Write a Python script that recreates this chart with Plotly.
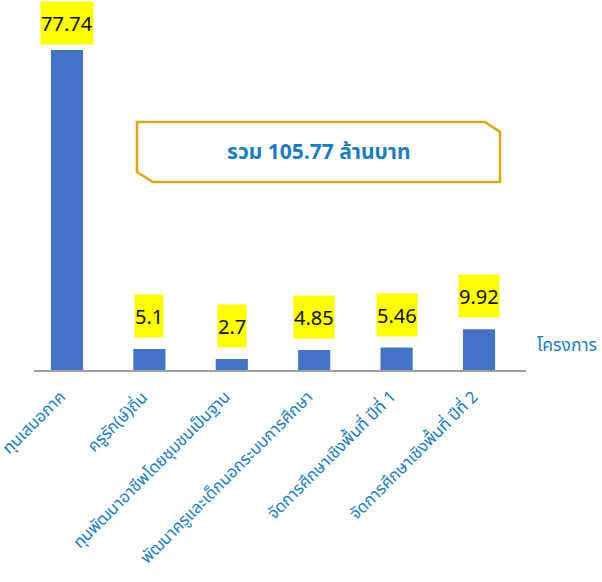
import plotly.graph_objects as go

# Budget per project (million baht)
categories = [
    "ทุนเสมอภาค",
    "ครูรัก(ษ์)ถิ่น",
    "ทุนพัฒนาอาชีพโดยชุมชนเป็นฐาน",
    "พัฒนาครูและเด็กนอกระบบการศึกษา",
    "จัดการศึกษาเชิงพื้นที่ ปีที่ 1",
    "จัดการศึกษาเชิงพื้นที่ ปีที่ 2",
]
values = [77.74, 5.1, 2.7, 4.85, 5.46, 9.92]
value_labels = ["77.74", "5.1", "2.7", "4.85", "5.46", "9.92"]
axis_title = "โครงการ"

total = round(sum(values), 2)
total_text = f"รวม {total:.2f} ล้านบาท"

W, H = 602, 582
ML, MR, MT, MB = 34, 76, 0, 212
PW, PH = W - ML - MR, H - MT - MB

BLUE_TEXT = "#1A7DC2"
BAR_BLUE = "#4472C4"
GOLD = "#DBA818"
THAI_FONT = "Noto Sans Thai, Noto Sans, sans-serif"
NUM_FONT = "Noto Sans, sans-serif"


def px_x(x):
    return (x - ML) / PW


def px_y(y):
    return (H - MB - y) / PH


fig = go.Figure()
fig.add_trace(go.Bar(
    x=list(range(len(categories))),
    y=values,
    width=0.39,
    marker=dict(color=BAR_BLUE, line=dict(width=0)),
    hoverinfo="skip",
))

y_max = 89.9
annotations = []

# value labels on yellow boxes above each bar
for i, (v, t) in enumerate(zip(values, value_labels)):
    box_h = 42
    bar_top_px = PH * v / y_max
    shift = min(11, PH - bar_top_px - box_h - 3)
    annotations.append(dict(
        x=i, y=v, xref="x", yref="y", text=t, showarrow=False,
        yanchor="bottom", yshift=shift,
        font=dict(family=NUM_FONT, size=20, color="#111111"),
        bgcolor="#FFFF00", borderpad=0, height=box_h,
    ))

# slanted category names under the axis
for i, name in enumerate(categories):
    annotations.append(dict(
        x=i, y=0, xref="x", yref="y", text=name, showarrow=False,
        textangle=-45, xanchor="right", yanchor="top",
        xshift=6, yshift=-14, borderpad=0,
        font=dict(family=THAI_FONT, size=16.5, color=BLUE_TEXT),
    ))

annotations.append(dict(
    x=px_x(318), y=px_y(152), xref="paper", yref="paper",
    text=f"<b>{total_text}</b>", showarrow=False,
    font=dict(family=THAI_FONT, size=21, color=BLUE_TEXT),
))
annotations.append(dict(
    x=px_x(535), y=px_y(361), xref="paper", yref="paper",
    text=axis_title, showarrow=False, xanchor="left",
    font=dict(family=THAI_FONT, size=17.5, color=BLUE_TEXT),
))

# chamfered frame around the total
frame = [(137, 122), (485, 122), (500, 132), (500, 182), (153, 182), (137, 172)]
path = "M " + " L ".join(f"{px_x(x):.4f},{px_y(y):.4f}" for x, y in frame) + " Z"

fig.update_layout(
    width=W, height=H,
    margin=dict(l=ML, r=MR, t=MT, b=MB, pad=0),
    paper_bgcolor="white", plot_bgcolor="white",
    showlegend=False,
    annotations=annotations,
    shapes=[dict(type="path", path=path, xref="paper", yref="paper",
                 line=dict(color=GOLD, width=2.5), fillcolor="rgba(0,0,0,0)")],
    xaxis=dict(
        tickmode="array", tickvals=list(range(len(categories))),
        ticktext=[""] * len(categories),
        range=[-0.40, 5.57],
        showline=True, linecolor="#A0A0A0", linewidth=2,
        showgrid=False, zeroline=False, ticks="",
    ),
    yaxis=dict(range=[0, y_max], visible=False, showgrid=False, zeroline=False),
)

fig.write_html("out.html")
